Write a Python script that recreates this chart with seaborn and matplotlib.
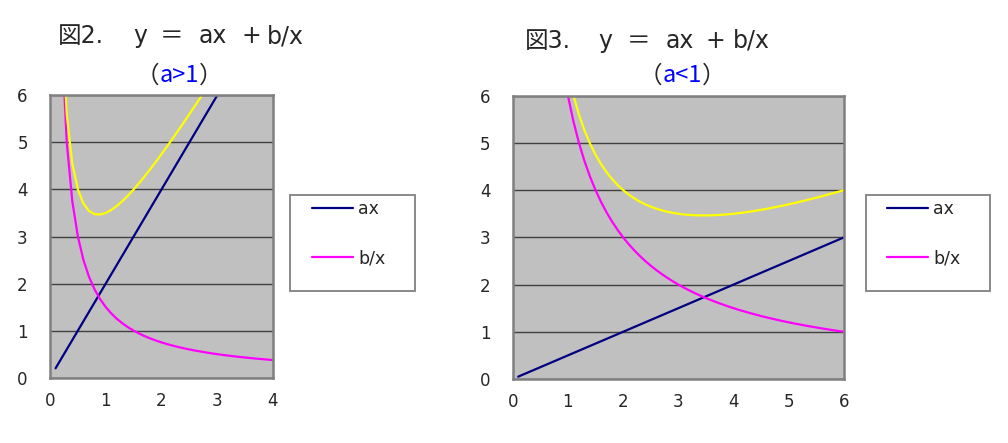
import matplotlib
matplotlib.use("Agg")
import matplotlib.pyplot as plt
from matplotlib.patches import Rectangle
import seaborn as sns

# fig 2: a = 2, b = 1.5
x2 = [0.1, 0.2, 0.3, 0.4, 0.5, 0.6, 0.7, 0.8, 0.9, 1.0,
      1.1, 1.2, 1.3, 1.4, 1.5, 1.6, 1.7, 1.8, 1.9, 2.0,
      2.1, 2.2, 2.3, 2.4, 2.5, 2.6, 2.7, 2.8, 2.9, 3.0,
      3.1, 3.2, 3.3, 3.4, 3.5, 3.6, 3.7, 3.8, 3.9, 4.0]
ax2_vals = [0.2, 0.4, 0.6, 0.8, 1.0, 1.2, 1.4, 1.6, 1.8, 2.0,
            2.2, 2.4, 2.6, 2.8, 3.0, 3.2, 3.4, 3.6, 3.8, 4.0,
            4.2, 4.4, 4.6, 4.8, 5.0, 5.2, 5.4, 5.6, 5.8, 6.0,
            6.2, 6.4, 6.6, 6.8, 7.0, 7.2, 7.4, 7.6, 7.8, 8.0]
bx2_vals = [15.0, 7.5, 5.0, 3.75, 3.0, 2.5, 2.143, 1.875, 1.667, 1.5,
            1.364, 1.25, 1.154, 1.071, 1.0, 0.938, 0.882, 0.833, 0.789, 0.75,
            0.714, 0.682, 0.652, 0.625, 0.6, 0.577, 0.556, 0.536, 0.517, 0.5,
            0.484, 0.469, 0.455, 0.441, 0.429, 0.417, 0.405, 0.395, 0.385, 0.375]
sum2_vals = [15.2, 7.9, 5.6, 4.55, 4.0, 3.7, 3.543, 3.475, 3.467, 3.5,
             3.564, 3.65, 3.754, 3.871, 4.0, 4.138, 4.282, 4.433, 4.589, 4.75,
             4.914, 5.082, 5.252, 5.425, 5.6, 5.777, 5.956, 6.136, 6.317, 6.5,
             6.684, 6.869, 7.055, 7.241, 7.429, 7.617, 7.805, 7.995, 8.185, 8.375]

# fig 3: a = 0.5, b = 6
x3 = [0.1, 0.2, 0.3, 0.4, 0.5, 0.6, 0.7, 0.8, 0.9, 1.0,
      1.1, 1.2, 1.3, 1.4, 1.5, 1.6, 1.7, 1.8, 1.9, 2.0,
      2.1, 2.2, 2.3, 2.4, 2.5, 2.6, 2.7, 2.8, 2.9, 3.0,
      3.1, 3.2, 3.3, 3.4, 3.5, 3.6, 3.7, 3.8, 3.9, 4.0,
      4.1, 4.2, 4.3, 4.4, 4.5, 4.6, 4.7, 4.8, 4.9, 5.0,
      5.1, 5.2, 5.3, 5.4, 5.5, 5.6, 5.7, 5.8, 5.9, 6.0]
ax3_vals = [0.05, 0.1, 0.15, 0.2, 0.25, 0.3, 0.35, 0.4, 0.45, 0.5,
            0.55, 0.6, 0.65, 0.7, 0.75, 0.8, 0.85, 0.9, 0.95, 1.0,
            1.05, 1.1, 1.15, 1.2, 1.25, 1.3, 1.35, 1.4, 1.45, 1.5,
            1.55, 1.6, 1.65, 1.7, 1.75, 1.8, 1.85, 1.9, 1.95, 2.0,
            2.05, 2.1, 2.15, 2.2, 2.25, 2.3, 2.35, 2.4, 2.45, 2.5,
            2.55, 2.6, 2.65, 2.7, 2.75, 2.8, 2.85, 2.9, 2.95, 3.0]
bx3_vals = [60.0, 30.0, 20.0, 15.0, 12.0, 10.0, 8.571, 7.5, 6.667, 6.0,
            5.455, 5.0, 4.615, 4.286, 4.0, 3.75, 3.529, 3.333, 3.158, 3.0,
            2.857, 2.727, 2.609, 2.5, 2.4, 2.308, 2.222, 2.143, 2.069, 2.0,
            1.935, 1.875, 1.818, 1.765, 1.714, 1.667, 1.622, 1.579, 1.538, 1.5,
            1.463, 1.429, 1.395, 1.364, 1.333, 1.304, 1.277, 1.25, 1.224, 1.2,
            1.176, 1.154, 1.132, 1.111, 1.091, 1.071, 1.053, 1.034, 1.017, 1.0]
sum3_vals = [60.05, 30.1, 20.15, 15.2, 12.25, 10.3, 8.921, 7.9, 7.117, 6.5,
             6.005, 5.6, 5.265, 4.986, 4.75, 4.55, 4.379, 4.233, 4.108, 4.0,
             3.907, 3.827, 3.759, 3.7, 3.65, 3.608, 3.572, 3.543, 3.519, 3.5,
             3.485, 3.475, 3.468, 3.465, 3.464, 3.467, 3.472, 3.479, 3.488, 3.5,
             3.513, 3.529, 3.545, 3.564, 3.583, 3.604, 3.627, 3.65, 3.674, 3.7,
             3.726, 3.754, 3.782, 3.811, 3.841, 3.871, 3.903, 3.934, 3.967, 4.0]

fig_nums = ["図2.", "図3."]
formula_parts = ["y", "＝", "ax", "+", "b/x"]
conds = ["a>1", "a<1"]
series_labels = ["ax", "b/x"]

sns.set_style("white")
plt.rcParams["font.family"] = ["DejaVu Sans", "Noto Sans CJK JP"]
sans = ["DejaVu Sans", "Noto Sans CJK JP"]
cjk = ["Noto Sans CJK JP", "DejaVu Sans"]

fig = plt.figure(figsize=(10.08, 4.43), dpi=100)
W, H = 1008, 443

def px_axes(l, t, r, b):
    return fig.add_axes([l / W, 1 - b / H, (r - l) / W, (b - t) / H])

axes = [px_axes(50, 95.3, 273, 377.7), px_axes(512.7, 95.7, 844, 379)]
data = [(x2, ax2_vals, bx2_vals, sum2_vals, 4), (x3, ax3_vals, bx3_vals, sum3_vals, 6)]

for ax, (xs, a_v, b_v, s_v, xmax) in zip(axes, data):
    ax.set_facecolor("#C0C0C0")
    sns.lineplot(x=xs, y=a_v, ax=ax, color="#000080", lw=1.6, sort=False, estimator=None, label=series_labels[0])
    sns.lineplot(x=xs, y=b_v, ax=ax, color="#FF00FF", lw=1.6, sort=False, estimator=None, label=series_labels[1])
    sns.lineplot(x=xs, y=s_v, ax=ax, color="#FFFF00", lw=1.6, sort=False, estimator=None, label="_nolegend_")
    ax.set_xlim(0, xmax)
    ax.set_ylim(0, 6)
    ax.set_xticks(range(0, xmax + 1))
    ax.set_yticks(range(0, 7))
    ax.yaxis.grid(True, color="#404040", lw=1)
    ax.set_axisbelow(True)
    for sp in ax.spines.values():
        sp.set_color("#808080")
        sp.set_linewidth(1.8)
    ax.tick_params(axis="x", direction="in", length=5, color="#606060", pad=10, labelsize=12)
    ax.tick_params(axis="y", length=0, pad=16, labelsize=12)
    ax.set_xlabel("")
    ax.set_ylabel("")
    if ax.get_legend():
        ax.get_legend().remove()

# legends with plain boxes
for ax, (bl, bt, br, bb), hx in zip(axes, [(290, 195, 415, 291), (865.7, 195, 990, 291)], [312, 887]):
    fig.patches.append(Rectangle((bl / W, 1 - bb / H), (br - bl) / W, (bb - bt) / H,
                                 transform=fig.transFigure, facecolor="white",
                                 edgecolor="#808080", lw=1.3))
    handles, labels = ax.get_legend_handles_labels()
    fig.legend(handles[:2], labels[:2], loc="upper left", bbox_to_anchor=(hx / W, 1 - 200 / H),
               bbox_transform=fig.transFigure, frameon=False, borderpad=0, borderaxespad=0,
               handlelength=2.35, handletextpad=0.3, labelspacing=1.8,
               prop={"family": sans, "size": 12.5})

# titles, placed piece by piece to keep the wide spacing
title_x = [[58, 133, 160, 199, 242, 267], [525, 598, 627, 666, 706, 733]]
title_y = [36, 41]
for xs_t, ty, num in zip(title_x, title_y, fig_nums):
    for px, piece in zip(xs_t, [num] + formula_parts):
        fig.text(px / W, 1 - ty / H, piece, fontsize=17, family=sans, va="center", ha="left")

for (sx, sy), c in zip([(136, 76), (639, 76)], conds):
    t1 = fig.text(sx / W, 1 - sy / H, "（", fontsize=17, family=cjk, va="center", ha="left")
    t2 = plt.annotate(c, xy=(1, 0.5), xycoords=t1, va="center", ha="left",
                      fontsize=17, family=cjk, color="#0000FF", annotation_clip=False)
    plt.annotate("）", xy=(1, 0.5), xycoords=t2, va="center", ha="left",
                 fontsize=17, family=cjk, annotation_clip=False)

fig.savefig("out.png", dpi=100)
